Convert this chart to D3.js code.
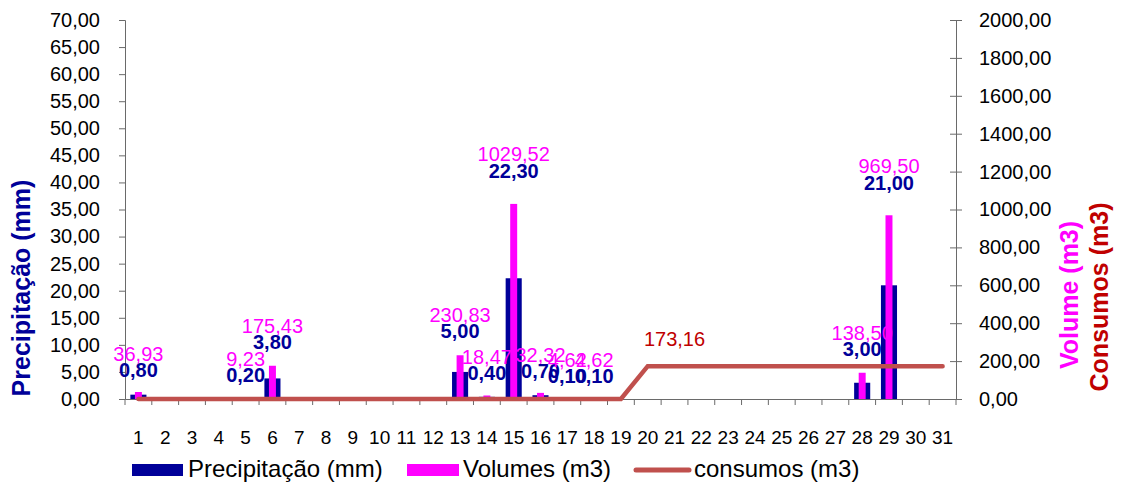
<!DOCTYPE html>
<html><head><meta charset="utf-8">
<script src="https://cdn.jsdelivr.net/npm/d3@7"></script>
<style>body{margin:0;background:#fff}svg{display:block;font-family:"Liberation Sans",Arial,sans-serif}</style>
</head><body><svg id="c" width="1121" height="486"></svg>
<script>
const days = d3.range(1, 32).map(String);
const precip = [0.80,0,0,0,0.20,3.80,0,0,0,0,0,0,5.00,0.40,22.30,0.70,0.10,0.10,0,0,0,0,0,0,0,0,0,3.00,21.00,0,0];
const volumes = [36.93,0,0,0,9.23,175.43,0,0,0,0,0,0,230.83,18.47,1029.52,32.32,4.62,4.62,0,0,0,0,0,0,0,0,0,138.50,969.50,0,0];
const consumos = [0,0,0,0,0,0,0,0,0,0,0,0,0,0,0,0,0,0,0,173.16,173.16,173.16,173.16,173.16,173.16,173.16,173.16,173.16,173.16,173.16,173.16];
const precipTicks = d3.range(0, 70.01, 5);
const volTicks = d3.range(0, 2000.01, 200);
const consumoLabelDay = "21";
const legendItems = ["Precipitação (mm)", "Volumes (m3)", "consumos (m3)"];

const svg = d3.select("#c");
const L = 125, R = 956, T = 20, B = 399;
const x = d3.scaleBand().domain(days).range([L, R]).padding(0);
const yP = d3.scaleLinear().domain([0, 70]).range([B, T]);
const yV = d3.scaleLinear().domain([0, 2000]).range([B, T]);
const fmt = v => d3.format(".2f")(v).replace(".", ",");
const axisCol = "#6a6a6a";
const navy = "#000099", mag = "#FF00FF", lineCol = "#C0504D", red = "#C00000";

// left axis
const gl = svg.append("g").attr("transform", `translate(${L},0)`)
  .call(d3.axisLeft(yP).tickValues(precipTicks).tickFormat(fmt).tickSize(6).tickPadding(19));
gl.select(".domain").attr("stroke", axisCol);
gl.selectAll(".tick line").attr("stroke", axisCol);
gl.selectAll("text").attr("font-size", 20).attr("fill", "#000").attr("font-family", "Liberation Sans, Arial");

// right axis
const gr = svg.append("g").attr("transform", `translate(${R},0)`)
  .call(d3.axisRight(yV).tickValues(volTicks).tickFormat(fmt).tickSize(6).tickPadding(17));
gr.select(".domain").attr("stroke", axisCol);
gr.selectAll(".tick line").attr("stroke", axisCol).attr("x1", -6);
gr.selectAll("text").attr("font-size", 20).attr("fill", "#000").attr("font-family", "Liberation Sans, Arial");

// x axis
const gx = svg.append("g").attr("transform", `translate(0,${B})`)
  .call(d3.axisBottom(x).tickSize(0).tickPadding(32));
gx.select(".domain").attr("stroke", axisCol);
gx.selectAll("text").attr("font-size", 19).attr("fill", "#000").attr("font-family", "Liberation Sans, Arial");
const bounds = days.map(d => x(d)).concat([R]);
gx.selectAll(".bt").data(bounds).enter().append("line").attr("class", "bt")
  .attr("x1", d => d).attr("x2", d => d).attr("y1", 0).attr("y2", 6).attr("stroke", axisCol);

// bars
const bw = x.bandwidth();
svg.append("g").selectAll("rect").data(days).enter().append("rect")
  .attr("x", d => x(d) + bw * 0.2).attr("width", bw * 0.6)
  .attr("y", (d, i) => yP(precip[i])).attr("height", (d, i) => B - yP(precip[i]))
  .attr("fill", navy);
svg.append("g").selectAll("rect").data(days).enter().append("rect")
  .attr("x", d => x(d) + bw * 0.37).attr("width", bw * 0.26)
  .attr("y", (d, i) => yV(volumes[i])).attr("height", (d, i) => B - yV(volumes[i]))
  .attr("fill", mag);

// consumos line
const line = d3.line().x((d, i) => x(days[i]) + bw / 2).y(d => yV(d));
svg.append("path").datum(consumos).attr("d", line).attr("fill", "none")
  .attr("stroke", lineCol).attr("stroke-width", 4.5).attr("stroke-linecap", "round").attr("stroke-linejoin", "miter");

// data labels
const lab = svg.append("g").attr("font-family", "Liberation Sans, Arial").attr("text-anchor", "middle");
days.forEach((d, i) => {
  const cx = x(d) + bw / 2;
  if (volumes[i] > 0) {
    lab.append("text").attr("x", cx).attr("y", yV(volumes[i] * 1.06) - 38 + 7)
      .attr("font-size", 20).attr("fill", mag).text(fmt(volumes[i]));
  }
  if (precip[i] > 0) {
    lab.append("text").attr("x", cx).attr("y", yP(precip[i] * 1.71) - 22 + 7)
      .attr("font-size", 20).attr("font-weight", "bold").attr("fill", navy).text(fmt(precip[i]));
  }
});
const ci = days.indexOf(consumoLabelDay);
lab.append("text").attr("x", x(consumoLabelDay) + bw / 2).attr("y", yV(consumos[ci]) - 20)
  .attr("font-size", 20).attr("fill", red).text(fmt(consumos[ci]));

// axis titles
svg.append("text").attr("transform", "translate(30,288) rotate(-90)").attr("text-anchor", "middle")
  .attr("font-size", 25).attr("font-weight", "bold").attr("fill", navy).text("Precipitação (mm)");
svg.append("text").attr("transform", "translate(1078,295) rotate(-90)").attr("text-anchor", "middle")
  .attr("font-size", 25).attr("font-weight", "bold").attr("fill", mag).text("Volume (m3)");
svg.append("text").attr("transform", "translate(1108,297) rotate(-90)").attr("text-anchor", "middle")
  .attr("font-size", 25).attr("font-weight", "bold").attr("fill", red).text("Consumos (m3)");

// legend
const lg = svg.append("g").attr("font-family", "Liberation Sans, Arial");
lg.append("rect").attr("x", 132).attr("y", 464).attr("width", 51).attr("height", 12).attr("fill", navy);
lg.append("text").attr("x", 188).attr("y", 477).attr("font-size", 24).text(legendItems[0]);
lg.append("rect").attr("x", 407).attr("y", 464).attr("width", 52).attr("height", 12).attr("fill", mag);
lg.append("text").attr("x", 463).attr("y", 477).attr("font-size", 24).text(legendItems[1]);
lg.append("line").attr("x1", 636).attr("x2", 689).attr("y1", 470).attr("y2", 470)
  .attr("stroke", lineCol).attr("stroke-width", 5).attr("stroke-linecap", "round");
lg.append("text").attr("x", 694).attr("y", 477).attr("font-size", 24).text(legendItems[2]);
</script></body></html>
